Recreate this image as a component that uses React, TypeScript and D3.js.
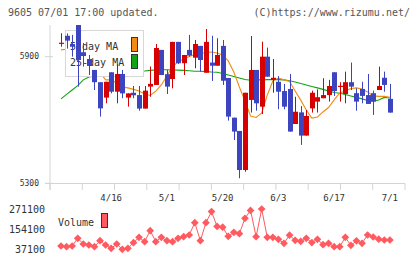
import React from "react"
import { scaleLinear, line, symbol, symbolSquare } from "d3"

// 日足（60営業日）
const opens = [5966, 5999, 5960, 6060, 5921, 5889, 5837, 5779, 5706, 5826, 5734, 5818, 5706, 5729, 5718, 5654, 5758, 5766, 5932, 5817, 5794, 5970, 5869, 5932, 5895, 5951, 5824, 5872, 5857, 5951, 5799, 5611, 5548, 5363, 5695, 5837, 5663, 5900, 5790, 5781, 5737, 5747, 5581, 5636, 5526, 5655, 5687, 5703, 5718, 5826, 5757, 5723, 5779, 5727, 5747, 5718, 5727, 5742, 5800, 5700]
const highs = [6011, 6010, 6003, 6090, 5965, 5908, 5837, 5779, 5781, 5826, 5864, 5837, 5726, 5761, 5761, 5761, 5853, 5960, 5932, 5837, 5970, 5970, 5908, 6003, 5979, 5951, 6031, 5999, 5987, 5979, 5799, 5611, 5548, 5729, 5998, 5837, 5971, 5943, 5889, 5808, 5771, 5818, 5710, 5666, 5647, 5739, 5745, 5798, 5790, 5826, 5779, 5829, 5872, 5750, 5781, 5818, 5739, 5853, 5829, 5771]
const lows = [5947, 5938, 5900, 5758, 5853, 5813, 5742, 5616, 5679, 5726, 5679, 5703, 5663, 5703, 5644, 5654, 5710, 5766, 5813, 5723, 5750, 5865, 5813, 5900, 5845, 5829, 5824, 5785, 5857, 5766, 5597, 5505, 5324, 5355, 5635, 5644, 5628, 5805, 5729, 5651, 5651, 5545, 5581, 5482, 5526, 5635, 5635, 5703, 5687, 5714, 5687, 5679, 5742, 5644, 5679, 5676, 5624, 5742, 5734, 5635]
const closes = [5966, 5976, 5947, 5884, 5903, 5856, 5779, 5655, 5781, 5734, 5818, 5726, 5726, 5717, 5654, 5739, 5771, 5941, 5813, 5758, 5970, 5869, 5908, 5905, 5960, 5884, 5970, 5857, 5908, 5786, 5616, 5545, 5363, 5729, 5837, 5679, 5900, 5805, 5800, 5734, 5663, 5545, 5639, 5526, 5619, 5729, 5708, 5718, 5761, 5737, 5762, 5779, 5758, 5687, 5714, 5676, 5687, 5761, 5766, 5635]
const ma5 = [5932, 5935, 5940, 5935, 5930, 5910, 5870, 5825, 5790, 5790, 5775, 5756, 5752, 5745, 5737, 5723, 5716, 5737, 5766, 5808, 5853, 5875, 5889, 5901, 5910, 5915, 5920, 5922, 5917, 5908, 5880, 5827, 5756, 5690, 5619, 5612, 5633, 5718, 5785, 5799, 5790, 5782, 5737, 5694, 5647, 5609, 5614, 5638, 5659, 5695, 5728, 5737, 5749, 5752, 5747, 5733, 5714, 5712, 5712, 5707]
const ma25 = [5700, 5721, 5742, 5763, 5790, 5804, 5808, 5813, 5818, 5820, 5823, 5825, 5827, 5830, 5831, 5832, 5835, 5837, 5838, 5838, 5837, 5836, 5835, 5833, 5831, 5831, 5829, 5827, 5826, 5820, 5813, 5806, 5799, 5792, 5788, 5790, 5790, 5791, 5791, 5791, 5790, 5786, 5780, 5773, 5766, 5759, 5752, 5745, 5737, 5730, 5727, 5721, 5714, 5707, 5700, 5692, 5689, 5695, 5707, 5704]
const volumes = [54650, 50600, 54650, 99700, 66350, 60500, 50600, 85700, 60500, 41200, 66350, 35300, 41200, 74000, 105500, 79800, 144200, 79800, 105500, 85700, 79800, 99700, 109100, 119000, 191000, 85700, 191000, 256000, 169000, 165000, 111000, 134500, 127000, 216600, 263000, 109100, 271100, 105500, 105500, 93800, 70400, 118000, 87700, 82000, 99700, 75000, 93800, 62500, 70400, 50600, 50600, 105500, 58500, 84900, 70400, 119000, 107300, 94700, 89750, 89750]

const dateLabels = ["4/16", "5/1", "5/20", "6/3", "6/17", "7/1"]
const dateLabelIndex = [9, 19, 29, 39, 49, 59]
const priceTicks = [5900, 5300]
const volumeTicks = [271100, 154100, 37100]

const FONT = "'DejaVu Sans Mono', monospace"
const RED = "#d70000"
const BLUE = "#3c44c0"
const ORANGE = "#f28a14"
const GREEN = "#13a313"
const PINK = "#ff5a60"
const AXIS = "#d4d4d4"

export default function App() {
  const x = scaleLinear().domain([0, 59]).range([61, 389.9])
  const y = scaleLinear().domain([5300, 6050]).range([183.3, 25])
  const yVol = scaleLinear().domain([37100, 271100]).range([249, 209])
  // 軸の目盛り（等間隔）
  const xTick = scaleLinear().domain([0, 11]).range([50, 405])

  const bodyW = 5
  const idx = closes.map((_, i) => i)

  const maLine = (vals: number[]) =>
    line<number>()
      .x((_, i) => x(i))
      .y((d) => y(d))(vals) ?? ""

  const volLine =
    line<number>()
      .x((_, i) => x(i))
      .y((d) => yVol(d))(volumes) ?? ""

  const diamond = symbol().type(symbolSquare).size(30)()

  return (
    <svg
      width={420}
      height={259}
      style={{ position: "absolute", left: 0, top: 0, background: "#fff" }}
      fontFamily={FONT}
    >
      <defs>
        <clipPath id="plot">
          <rect x={50} y={25} width={360} height={158.3} />
        </clipPath>
      </defs>

      <text x={8} y={16} fontSize={10} fill="#555">
        9605 07/01 17:00 updated.
      </text>
      <text x={410} y={16} fontSize={10} fill="#555" textAnchor="end">
        (C)https://www.rizumu.net/
      </text>

      {/* 軸 */}
      <line x1={50} x2={50} y1={25} y2={190} stroke={AXIS} />
      <line x1={45} x2={405} y1={183.5} y2={183.5} stroke={AXIS} />
      {priceTicks.map((t) => (
        <g key={t}>
          <line x1={45} x2={53} y1={y(t)} y2={y(t)} stroke={AXIS} />
          <text x={39} y={y(t)} dy=".35em" fontSize={8} textAnchor="end" fill="#333">
            {t}
          </text>
        </g>
      ))}
      {xTick.ticks(11).map((t) => (
        <line key={t} x1={xTick(t)} x2={xTick(t)} y1={183.5} y2={190} stroke={AXIS} />
      ))}
      {dateLabels.map((d, i) => (
        <text key={d} x={x(dateLabelIndex[i])} y={201} fontSize={9} textAnchor="middle" fill="#333">
          {d}
        </text>
      ))}

      {/* 移動平均 */}
      <g clipPath="url(#plot)" fill="none" strokeWidth={1.1}>
        <path d={maLine(ma25)} stroke={GREEN} />
        <path d={maLine(ma5)} stroke={ORANGE} />
      </g>

      {/* 凡例 */}
      <rect x={65.5} y={30.5} width={78} height={46} fill="#fff" stroke="#d8d8d8" />
      <text x={70} y={50} fontSize={10} fill="#333">5-day MA</text>
      <text x={70} y={66} fontSize={10} fill="#333">25-day MA</text>
      <rect x={131.5} y={37.5} width={6} height={14} fill={ORANGE} stroke="#333" />
      <rect x={131.5} y={54.5} width={6} height={14} fill={GREEN} stroke="#333" />

      {/* ローソク足 */}
      <g clipPath="url(#plot)">
        {idx.map((i) => {
          const up = closes[i] >= opens[i]
          const c = up ? RED : BLUE
          const top = y(Math.max(opens[i], closes[i]))
          const bot = y(Math.min(opens[i], closes[i]))
          const cx = Math.round(x(i)) + 0.5
          return (
            <g key={i}>
              <line x1={cx} x2={cx} y1={y(highs[i])} y2={y(lows[i])} stroke={c} />
              <rect
                x={cx - bodyW / 2}
                y={top}
                width={bodyW}
                height={Math.max(bot - top, 1.2)}
                fill={c}
              />
            </g>
          )
        })}
      </g>

      {/* 出来高 */}
      {volumeTicks.map((t) => (
        <text key={t} x={45} y={yVol(t)} dy=".35em" fontSize={10} textAnchor="end" fill="#333">
          {t}
        </text>
      ))}
      <text x={58} y={226} fontSize={10} fill="#333">Volume</text>
      <rect x={101.5} y={213.5} width={6} height={14} fill={PINK} stroke="#333" />
      <path d={volLine} fill="none" stroke={PINK} strokeWidth={1} />
      {volumes.map((v, i) => (
        <path
          key={i}
          d={diamond}
          transform={`translate(${x(i)},${yVol(v)}) rotate(45)`}
          fill={PINK}
        />
      ))}
    </svg>
  )
}
